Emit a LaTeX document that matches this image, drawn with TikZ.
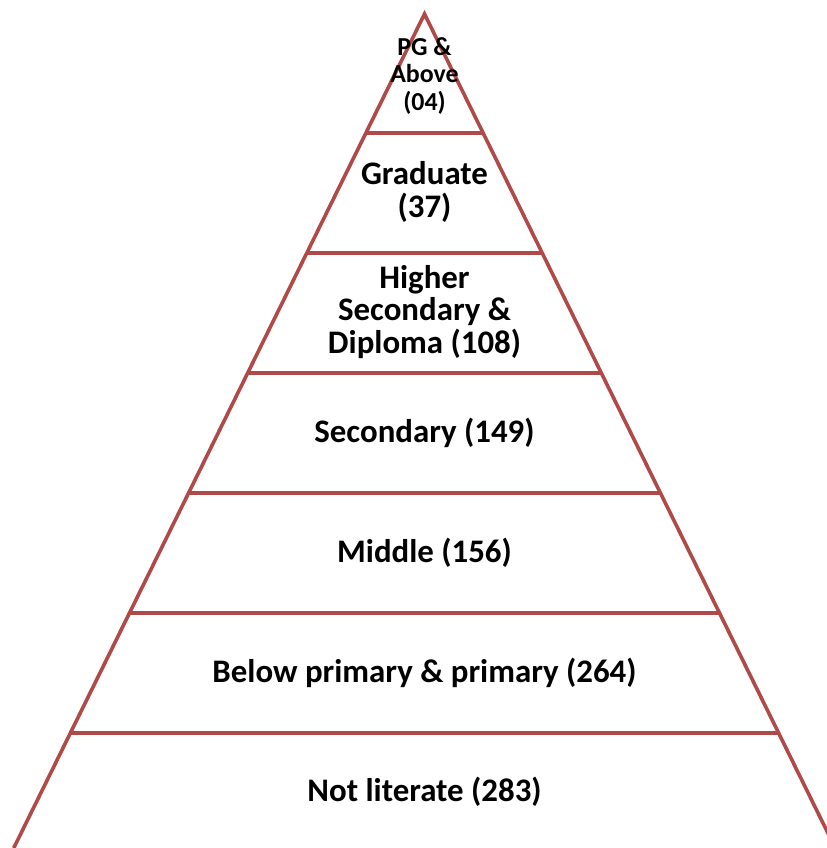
\documentclass[tikz,border=0pt]{standalone}
\usepackage{fontspec}
\setmainfont{Carlito}
\usetikzlibrary{calc}
\definecolor{pyr}{RGB}{176,74,72}
\tikzset{
  edge/.style={draw=pyr, line width=3.6bp, line cap=butt},
  lbl/.style={font=\bfseries\fontsize{33}{33}\selectfont, align=center, inner sep=0pt, text=black},
  lblsmall/.style={font=\bfseries\fontsize{26}{28}\selectfont, align=center, inner sep=0pt, text=black}
}
\begin{document}
\begin{tikzpicture}[x=1bp, y=-1bp]
\useasboundingbox (0,0) rectangle (827,848);
\fill[white] (0,0) rectangle (827,848);
\clip (0,0) rectangle (827,848);
\coordinate (A) at (424.5,14);
\coordinate (BL) at (13.75,848);
\coordinate (BR) at (835.25,848);
\draw[edge, line join=miter] (BL) -- (A) -- (BR);
\foreach \t/\n in {0.14269/1,0.28657/2,0.43046/3,0.57434/4,0.71823/5,0.86211/6}{
  \coordinate (L\n) at ($(A)!\t!(BL)$);
  \coordinate (R\n) at ($(A)!\t!(BR)$);
  \draw[edge] (L\n) -- (R\n);
}
\node[lblsmall] (pg) at (424.5,76) {PG \&\\Above\\(04)};
\node[lbl] (grad) at (424.5,192) {Graduate\\(37)};
\node[lbl] (hs) at (424.5,312) {Higher\\Secondary \&\\Diploma (108)};
\node[lbl] (sec) at (424.5,433) {Secondary (149)};
\node[lbl] (mid) at (424.5,553) {Middle (156)};
\node[lbl] (bp) at (424.5,673) {Below primary \& primary (264)};
\node[lbl] (nl) at (424.5,792) {Not literate (283)};
\end{tikzpicture}
\end{document}
